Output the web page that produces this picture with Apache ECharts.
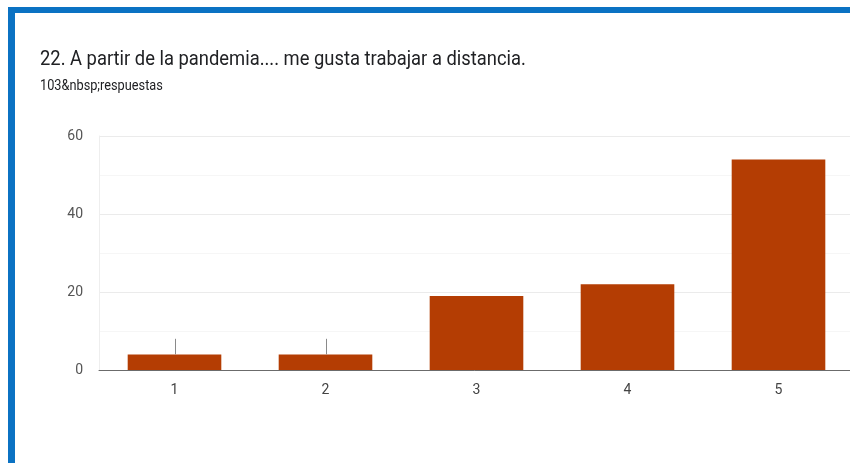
<!DOCTYPE html>
<html>
<head>
<meta charset="utf-8">
<script src="https://cdn.jsdelivr.net/npm/echarts@6/dist/echarts.min.js"></script>
<style>
html,body{margin:0;padding:0;background:#fff;}
#chart{width:850px;height:463px;}
</style>
</head>
<body>
<div id="chart"></div>
<script>
const titleText = "22. A partir de la pandemia.... me gusta trabajar a distancia.";
const subtitleText = "103&nbsp;respuestas";
const categories = ["1", "2", "3", "4", "5"];
const counts = [4, 4, 19, 22, 54];
const stemCategories = [0, 1];
const stemBase = [4, 4];
const stemTop = [8, 8];
const yTicks = [0, 20, 40, 60];

const chart = echarts.init(document.getElementById('chart'), null, {renderer: 'canvas'});
const option = {
  backgroundColor: '#ffffff',
  animation: false,
  graphic: [
    {type: 'rect', shape: {x: 8, y: 7, width: 842, height: 6}, style: {fill: '#0b72c3'}, z: 10},
    {type: 'rect', shape: {x: 8, y: 7, width: 7, height: 456}, style: {fill: '#0b72c3'}, z: 10},
    {type: 'text', x: 40, y: 49, scaleX: 0.875,
     style: {text: titleText, font: '21px Roboto', fill: '#202124', verticalAlign: 'top'}},
    {type: 'text', x: 40, y: 79, scaleX: 0.85,
     style: {text: subtitleText, font: '15px Roboto', fill: '#202124', verticalAlign: 'top'}}
  ],
  grid: {left: 99, width: 755, top: 136, height: 234, containLabel: false, outerBoundsMode: 'none'},
  xAxis: {
    type: 'category',
    data: categories,
    axisLine: {show: true, lineStyle: {color: '#6b6b6b', width: 1}},
    axisTick: {show: false},
    axisLabel: {color: '#444', fontSize: 14, fontFamily: 'Roboto', margin: 13}
  },
  yAxis: {
    type: 'value',
    min: yTicks[0],
    max: yTicks[yTicks.length - 1],
    interval: 20,
    axisLine: {show: true, lineStyle: {color: '#eeeeee'}},
    axisTick: {show: false},
    axisLabel: {color: '#555', fontSize: 14, fontFamily: 'Roboto', margin: 16},
    splitLine: {lineStyle: {color: '#ebebeb'}},
    minorTick: {show: false, splitNumber: 2},
    minorSplitLine: {show: true, lineStyle: {color: '#f6f6f6'}}
  },
  series: [
    {
      type: 'bar',
      data: counts,
      barWidth: '62%',
      itemStyle: {color: '#b43d03'},
      z: 2
    },
    {
      type: 'custom',
      data: stemCategories.map((c, i) => [c, stemBase[i], stemTop[i]]),
      renderItem: function (params, api) {
        const p1 = api.coord([api.value(0), api.value(1)]);
        const p2 = api.coord([api.value(0), api.value(2)]);
        return {
          type: 'line',
          shape: {x1: Math.round(p1[0]) + 0.5, y1: p1[1], x2: Math.round(p2[0]) + 0.5, y2: p2[1]},
          style: {stroke: '#8a8a8a', lineWidth: 1}
        };
      },
      z: 3
    }
  ]
};
chart.setOption(option);
</script>
</body>
</html>
